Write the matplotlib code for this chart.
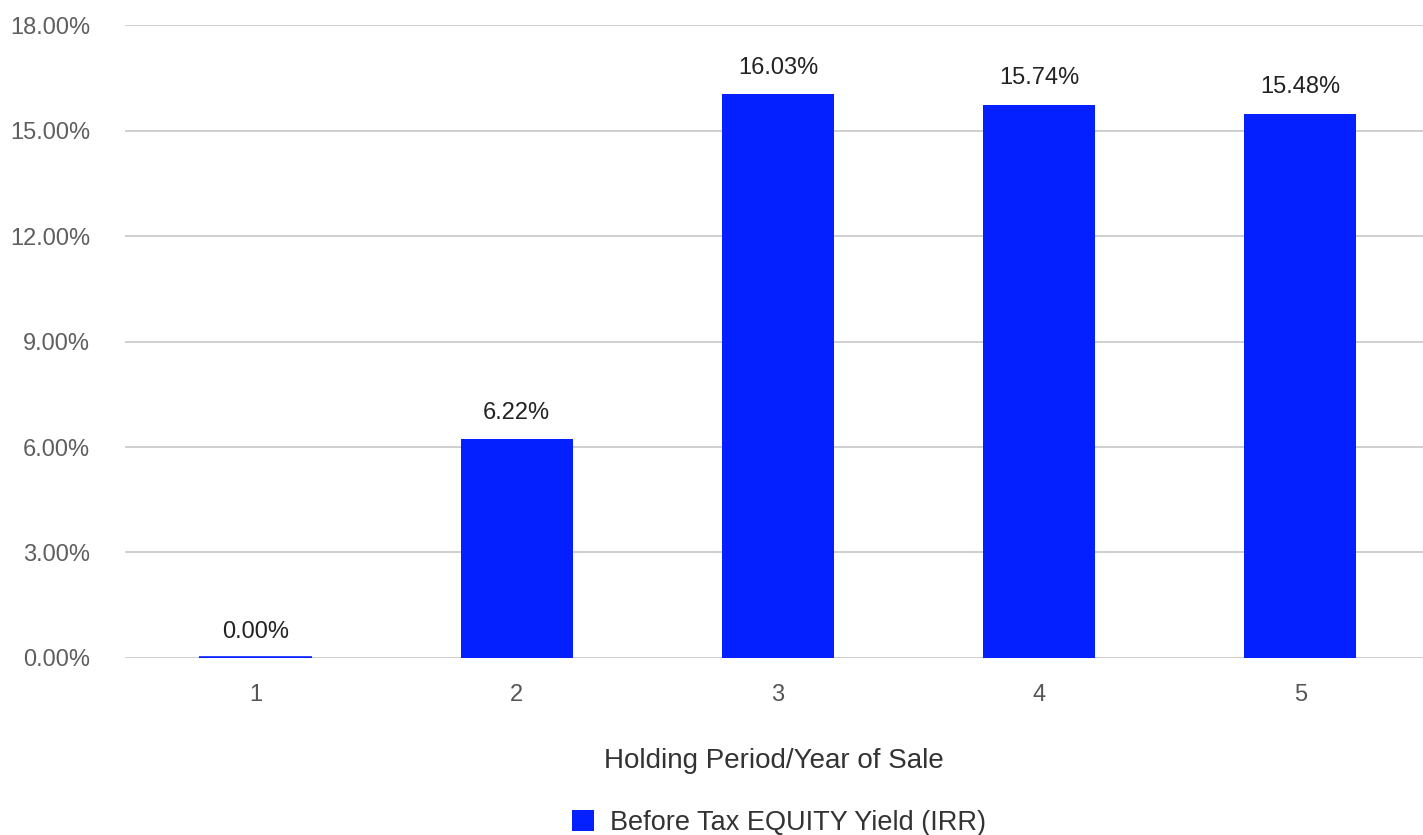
import numpy as np
import matplotlib.pyplot as plt
from matplotlib.ticker import FuncFormatter

years = [1, 2, 3, 4, 5]
irr = [0.00, 6.22, 16.03, 15.74, 15.48]
series_name = 'Before Tax EQUITY Yield (IRR)'
y_ticks = [0, 3, 6, 9, 12, 15, 18]

plt.rcParams['font.family'] = ['Liberation Sans', 'DejaVu Sans']

fig = plt.figure(figsize=(14.23, 8.35), dpi=100)
ax = fig.add_axes([0.0878, 0.212, 0.9122, 0.758])

blue = '#0420ff'
bar_w = 0.43
bars = ax.bar(years, irr, width=bar_w, color=blue, linewidth=0,
              label=series_name, zorder=3)

# zero-height bars still get a thin baseline stroke, like the original
for x, v in zip(years, irr):
    if v == 0:
        ax.hlines(0, x - bar_w / 2, x + bar_w / 2, color=blue, linewidth=2.6, zorder=3)

for x, v in zip(years, irr):
    ax.annotate('%.2f%%' % v, (x, v), xytext=(0, 19), textcoords='offset points',
                ha='center', va='center', fontsize=17, color='#222222')

ax.set_xlim(0.5, 5.47)
ax.set_ylim(0, 18)
ax.set_yticks(y_ticks)
ax.yaxis.set_major_formatter(FuncFormatter(lambda v, p: '%.2f%%' % v))
ax.set_xticks(years)
ax.set_xticklabels([str(y) for y in years])

ax.grid(axis='y', color='#cccccc', linewidth=1.3, zorder=0)
for s in ax.spines.values():
    s.set_visible(False)
ax.tick_params(axis='y', length=0, pad=25, labelsize=17, labelcolor='#5f5f5f')
ax.tick_params(axis='x', length=0, pad=19, labelsize=17, labelcolor='#555555')

ax.set_xlabel('Holding Period/Year of Sale', fontsize=20, color='#333333', labelpad=30)

fig.legend(handles=[bars], labels=[series_name], loc='center',
           bbox_to_anchor=(779 / 1423, 1 - 823 / 835), frameon=False,
           fontsize=19.5, handlelength=0.8, handleheight=0.8, handletextpad=0.6,
           labelcolor='#333333')

fig.savefig('out.png', dpi=100)
